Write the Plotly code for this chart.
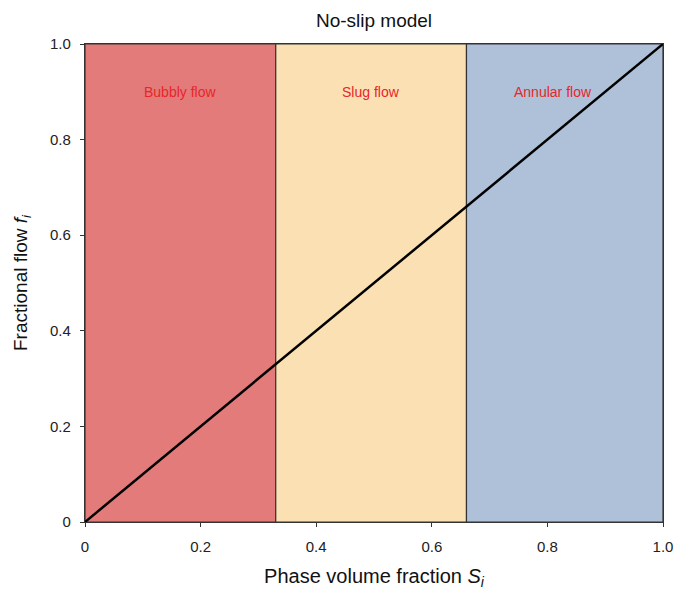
import plotly.graph_objects as go

# Flow-regime boundaries along the phase volume fraction axis
regime_names = ["Bubbly flow", "Slug flow", "Annular flow"]
regime_bounds = [0.0, 0.33, 0.66, 1.0]
regime_colors = ["#E37B7A", "#FBE0B4", "#AFC0D9"]
label_x = [0.165, 0.495, 0.81]
label_y = [0.9, 0.9, 0.9]

# No-slip relation: fractional flow equals phase volume fraction
phase_fraction = [0.0, 1.0]
fractional_flow = [0.0, 1.0]

tick_vals = [0, 0.2, 0.4, 0.6, 0.8, 1.0]
tick_text = ["0", "0.2", "0.4", "0.6", "0.8", "1.0"]

FONT = "Liberation Sans, Arial"

fig = go.Figure()

for i, name in enumerate(regime_names):
    fig.add_shape(
        type="rect", xref="x", yref="y",
        x0=regime_bounds[i], x1=regime_bounds[i + 1], y0=0, y1=1,
        fillcolor=regime_colors[i], line=dict(color="#333333", width=1.2),
        layer="below",
    )
    fig.add_annotation(
        x=label_x[i], y=label_y[i], text=name, showarrow=False,
        font=dict(family=FONT, size=14, color="#E8262A"),
    )

fig.add_trace(go.Scatter(
    x=phase_fraction, y=fractional_flow, mode="lines",
    line=dict(color="black", width=2.5), showlegend=False,
))

axis_common = dict(
    range=[0, 1], tickvals=tick_vals, ticktext=tick_text,
    ticks="outside", ticklen=4, tickcolor="#333333", tickwidth=1,
    showgrid=False, zeroline=False, showline=True, linecolor="#333333",
    linewidth=1.2, mirror=True, automargin=False,
    tickfont=dict(family=FONT, size=15, color="#222222"),
)

fig.update_layout(
    width=674, height=590,
    margin=dict(l=85, r=11, t=44, b=68),
    paper_bgcolor="white", plot_bgcolor="white",
    title=dict(
        text="No-slip model", x=0.5, xanchor="center", y=0.966, yanchor="middle",
        xref="paper",
        font=dict(family=FONT, size=19, color="#111111"),
    ),
    xaxis=dict(
        **axis_common,
        ticklabelstandoff=7,
        title=dict(text="Phase volume fraction <i>S<sub>i</sub></i>", standoff=14,
                   font=dict(family=FONT, size=20, color="#111111")),
    ),
    yaxis=dict(
        **axis_common,
        ticklabelstandoff=6,
        title=dict(text="Fractional flow <i>f<sub>i</sub></i>", standoff=17,
                   font=dict(family=FONT, size=19, color="#111111")),
    ),
)

fig.write_html("out.html")
